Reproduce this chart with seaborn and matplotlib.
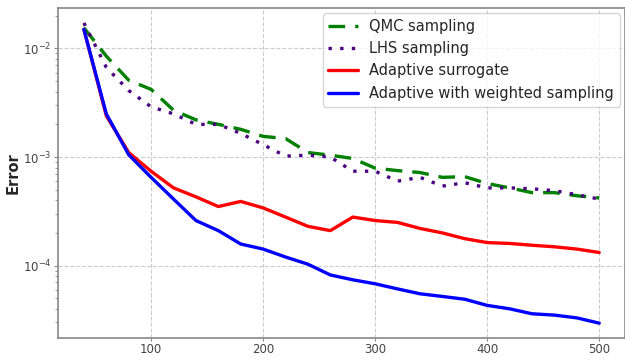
import matplotlib
matplotlib.use("Agg")
import matplotlib.pyplot as plt
import seaborn as sns
import pandas as pd

n_samples = [40, 60, 80, 100, 120, 140, 160, 180, 200, 220, 240, 260,
             280, 300, 320, 340, 360, 380, 400, 420, 440, 460, 480, 500]

qmc = [0.0155, 0.0085, 0.0051, 0.0042, 0.0027, 0.0022, 0.0020, 0.0018,
       0.00155, 0.00148, 0.0011, 0.00104, 0.00097, 0.00079, 0.00075, 0.00072,
       0.00065, 0.00066, 0.00057, 0.00052, 0.00047, 0.00047, 0.00044, 0.00042]

lhs = [0.0172, 0.0067, 0.0041, 0.0029, 0.0025, 0.0020, 0.0020, 0.00165,
       0.0013, 0.00102, 0.00104, 0.0010, 0.00074, 0.00074, 0.00060, 0.00065,
       0.00054, 0.00058, 0.00052, 0.00052, 0.00051, 0.00049, 0.00045, 0.00041]

adaptive = [0.0150, 0.0024, 0.0011, 0.00074, 0.00052, 0.00043, 0.00035, 0.00039,
            0.00034, 0.00028, 0.00023, 0.00021, 0.00028, 0.00026, 0.00025, 0.00022,
            0.00020, 0.000177, 0.000163, 0.00016, 0.000154, 0.000149, 0.000142, 0.000132]

weighted = [0.0150, 0.0025, 0.00105, 0.00065, 0.00041, 0.00026, 0.00021, 0.000158,
            0.000142, 0.00012, 0.000103, 0.000082, 0.000074, 0.000068, 0.000061, 0.000055,
            0.000052, 0.000049, 0.000043, 0.00004, 0.000036, 0.000035, 0.000033, 0.0000295]

labels = ["QMC sampling", "LHS sampling", "Adaptive surrogate",
          "Adaptive with weighted sampling"]

sns.set_style("whitegrid", {"grid.linestyle": "--", "grid.color": "#cccccc",
                            "axes.edgecolor": "#888888"})
plt.rcParams["font.family"] = ["DejaVu Sans"]

fig = plt.figure(figsize=(6.25, 3.59), dpi=100)
ax = fig.add_axes([0.093, 0.058, 0.907, 0.92])

styles = [
    (qmc, labels[0], "green", (0, (5, 3)), 2.4),
    (lhs, labels[1], "indigo", (0, (1, 2.5)), 2.4),
    (adaptive, labels[2], "red", "-", 2.4),
    (weighted, labels[3], "blue", "-", 2.4),
]
for vals, lab, col, ls, lw in styles:
    df = pd.DataFrame({"n": n_samples, "err": vals})
    sns.lineplot(data=df, x="n", y="err", ax=ax, color=col, label=lab,
                 linewidth=lw, linestyle=ls)

ax.set_yscale("log")
ax.set_xlabel("")
ax.set_ylabel("Error", fontsize=10.5, fontweight="bold", labelpad=2)
ax.tick_params(axis="both", which="both", labelsize=8.5, labelcolor="#444444",
               color="#888888", left=True, bottom=True, pad=1.5)
ax.tick_params(axis="y", which="major", length=3)
ax.tick_params(axis="y", which="minor", length=2)
ax.tick_params(axis="x", which="major", length=2)
ax.grid(True, which="major", linestyle="--", color="#cccccc", linewidth=0.8)
ax.grid(False, which="minor")
for s in ax.spines.values():
    s.set_color("#888888")
    s.set_linewidth(1.2)
ax.legend(loc="upper right", fontsize=10.5, frameon=True, handlelength=2.0,
          borderaxespad=0.35, labelspacing=0.5)

fig.savefig("out.png", dpi=100)
